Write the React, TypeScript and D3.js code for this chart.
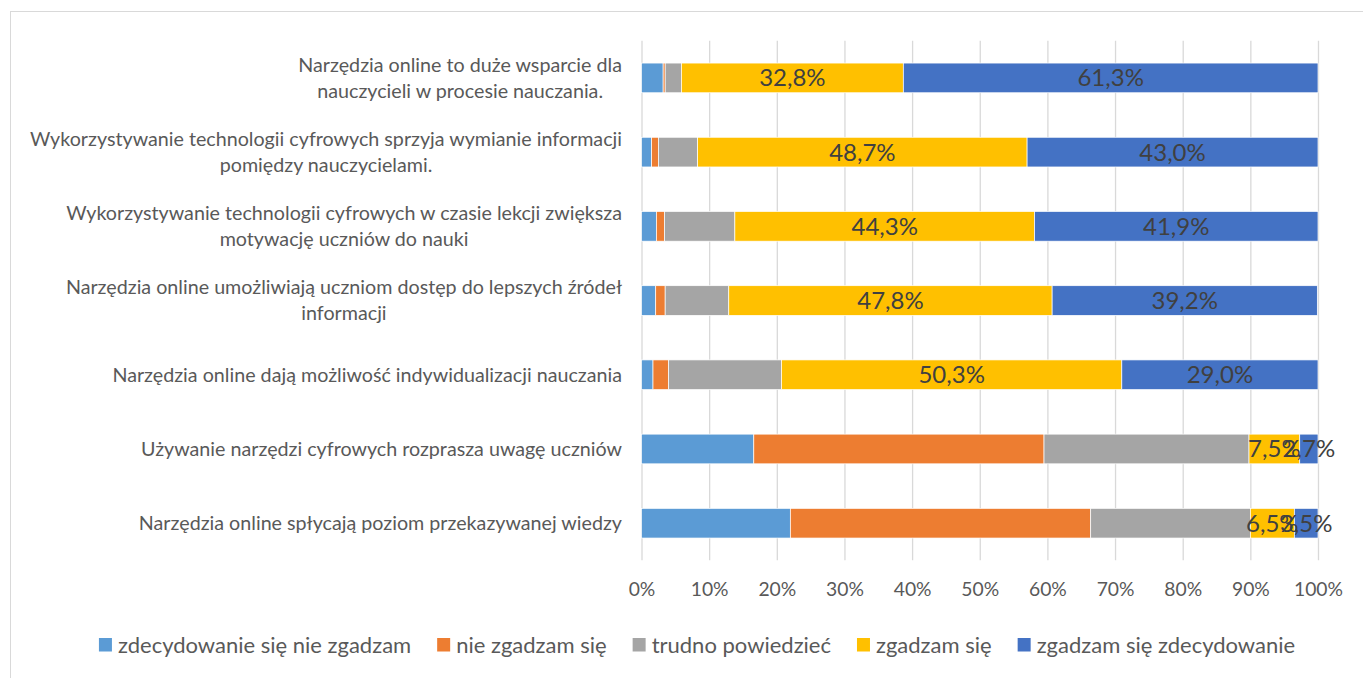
import * as d3 from 'd3'
import { useEffect, useRef } from 'react'

const categories = [
  'Narzędzia online to duże wsparcie dla\nnauczycieli w procesie nauczania.',
  'Wykorzystywanie technologii cyfrowych sprzyja wymianie informacji\npomiędzy nauczycielami.',
  'Wykorzystywanie technologii cyfrowych w czasie lekcji zwiększa\nmotywację uczniów do nauki',
  'Narzędzia online umożliwiają uczniom dostęp do lepszych źródeł\ninformacji',
  'Narzędzia online dają możliwość indywidualizacji nauczania',
  'Używanie narzędzi cyfrowych rozprasza uwagę uczniów',
  'Narzędzia online spłycają poziom przekazywanej wiedzy',
]
const seriesNames = [
  'zdecydowanie się nie zgadzam',
  'nie zgadzam się',
  'trudno powiedzieć',
  'zgadzam się',
  'zgadzam się zdecydowanie',
]
const stronglyDisagree = [3.2, 1.5, 2.2, 2.1, 1.7, 16.6, 22.0]
const disagree = [0.3, 1.0, 1.2, 1.4, 2.3, 42.9, 44.4]
const hardToSay = [2.4, 5.8, 10.4, 9.4, 16.7, 30.3, 23.6]
const agree = [32.8, 48.7, 44.3, 47.8, 50.3, 7.5, 6.5]
const stronglyAgree = [61.3, 43.0, 41.9, 39.2, 29.0, 2.7, 3.5]
const xTicks = [0, 10, 20, 30, 40, 50, 60, 70, 80, 90, 100]
const labelledSeries = [3, 4] // only these get data labels

const colors = ['#5B9BD5', '#ED7D31', '#A5A5A5', '#FFC000', '#4472C4']
const FONT = 'Lato, "Open Sans", sans-serif'

export default function App() {
  const ref = useRef<SVGSVGElement>(null)
  const width = 1363
  const height = 678

  useEffect(() => {
    const svg = d3.select(ref.current)
    svg.selectAll('*').remove()

    const values = [stronglyDisagree, disagree, hardToSay, agree, stronglyAgree]
    const rows = categories.map((c, i) => {
      const r: any = { category: c }
      seriesNames.forEach((s, j) => (r[s] = values[j][i]))
      return r
    })
    const stacked = d3.stack().keys(seriesNames)(rows)

    const x = d3.scaleLinear().domain([0, 100]).range([641.5, 1318])
    const y = d3.scaleBand().domain(categories).range([40.8, 560.3])
      .paddingInner(0.6).paddingOuter(0.3)

    // chart border
    svg.append('rect')
      .attr('x', 10.5).attr('y', 11.5)
      .attr('width', width).attr('height', height)
      .attr('fill', 'none').attr('stroke', '#d9d9d9')

    // gridlines
    const grid = svg.append('g')
      .attr('transform', `translate(0, 560.3)`)
      .call(d3.axisBottom(x).tickValues(xTicks).tickSize(-(560.3 - 40.8)).tickFormat(() => ''))
    grid.select('.domain').remove()
    grid.selectAll('line').attr('stroke', '#d9d9d9').attr('stroke-width', 1.3)

    // tick labels
    const xAxisG = svg.append('g')
      .attr('transform', `translate(0, 579)`)
      .call(d3.axisBottom(x).tickValues(xTicks).tickSize(0).tickFormat(d => `${d}%`))
    xAxisG.select('.domain').remove()
    xAxisG.selectAll('text')
      .attr('font-family', FONT).attr('font-size', 19.3).attr('fill', '#595959')

    // bars
    svg.append('g').selectAll('g')
      .data(stacked)
      .join('g')
      .attr('fill', (d, i) => colors[i])
      .selectAll('rect')
      .data(d => d)
      .join('rect')
      .attr('x', d => x(d[0]))
      .attr('y', d => y(d.data.category as string)!)
      .attr('width', d => x(d[1]) - x(d[0]))
      .attr('height', y.bandwidth())
      .attr('stroke', '#ffffff')
      .attr('stroke-width', 0.7)

    // data labels
    stacked.filter((s, i) => labelledSeries.includes(i)).forEach(s => {
      svg.append('g').selectAll('text')
        .data(s)
        .join('text')
        .attr('x', d => (x(d[0]) + x(d[1])) / 2)
        .attr('y', d => y(d.data.category as string)! + y.bandwidth() / 2)
        .attr('dy', '0.35em')
        .attr('text-anchor', 'middle')
        .attr('font-family', FONT).attr('font-size', 24).attr('fill', '#404040')
        .text(d => `${(d[1] - d[0]).toFixed(1).replace('.', ',')}%`)
    })

    // category labels: block right-aligned, lines centred
    categories.forEach(c => {
      const lines = c.split('\n')
      const g = svg.append('g')
      const texts = lines.map(l => g.append('text')
        .attr('font-family', FONT).attr('font-size', 19.7).attr('fill', '#595959')
        .attr('text-anchor', 'middle').attr('dy', '0.35em')
        .text(l))
      const widths = texts.map(t => (t.node() as SVGTextElement).getComputedTextLength())
      const cx = 622 - Math.max(...widths) / 2
      const cy = y(c)! + y.bandwidth() / 2
      texts.forEach((t, k) => t.attr('x', cx).attr('y', cy + (k - (lines.length - 1) / 2) * 26))
    })

    // legend
    const legend = svg.append('g')
    const items = seriesNames.map((s, i) => {
      const item = legend.append('g')
      item.append('rect').attr('width', 13).attr('height', 13.5).attr('y', -7).attr('fill', colors[i])
      const t = item.append('text').attr('x', 19).attr('dy', '0.35em')
        .attr('font-family', FONT).attr('font-size', 22).attr('fill', '#595959').text(s)
      return { item, w: 19 + (t.node() as SVGTextElement).getComputedTextLength() }
    })
    const gap = 26
    const total = d3.sum(items, d => d.w) + gap * (items.length - 1)
    let cur = 697 - total / 2
    items.forEach(d => {
      d.item.attr('transform', `translate(${cur}, 645)`)
      cur += d.w + gap
    })
  }, [])

  return (
    <svg ref={ref} width={width} height={height}
      style={{ position: 'absolute', left: 0, top: 0, background: '#fff' }} />
  )
}
